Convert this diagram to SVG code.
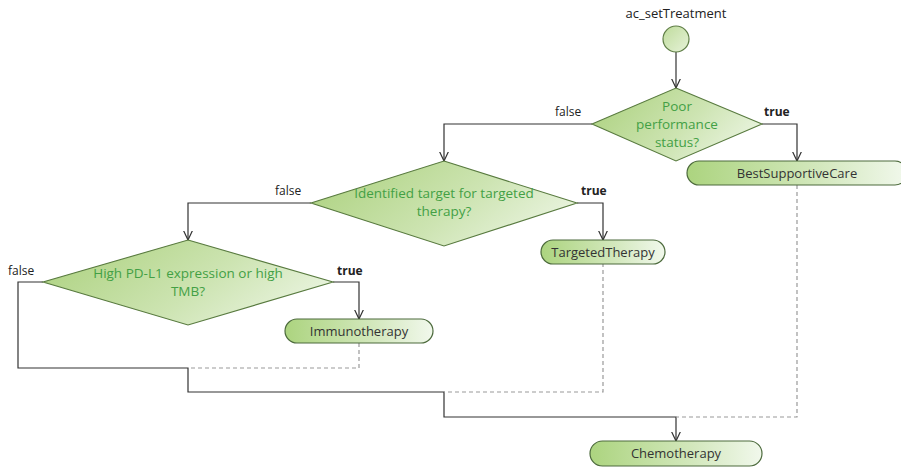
<svg xmlns="http://www.w3.org/2000/svg" width="901" height="467" viewBox="0 0 901 467">
  <defs>
    <linearGradient id="gDecision" x1="0" y1="0.3" x2="1" y2="0.7">
      <stop offset="0" stop-color="#afd383"/>
      <stop offset="0.55" stop-color="#cde4b2"/>
      <stop offset="1" stop-color="#ecf5e3"/>
    </linearGradient>
    <linearGradient id="gAction" x1="0" y1="0" x2="1" y2="0">
      <stop offset="0" stop-color="#acd47f"/>
      <stop offset="0.6" stop-color="#d3e8bd"/>
      <stop offset="1" stop-color="#f1f8ec"/>
    </linearGradient>
    <linearGradient id="gStart" x1="0" y1="0" x2="1" y2="1">
      <stop offset="0" stop-color="#bfdc9c"/>
      <stop offset="1" stop-color="#e6f2d8"/>
    </linearGradient>
    <marker id="arrow" viewBox="0 0 10 10" refX="9.5" refY="5" markerWidth="10" markerHeight="10" markerUnits="userSpaceOnUse" orient="auto">
      <path d="M0,0.5 L9.5,5 L0,9.5" fill="none" stroke="#333" stroke-width="1.2"/>
    </marker>
  </defs>
  <style>
    text { font-family: "Open Sans", "Noto Sans", "DejaVu Sans", sans-serif; }
    .decision { fill: url(#gDecision); stroke: #587a3f; stroke-width: 1.1; }
    .action { fill: url(#gAction); stroke: #4c6a3c; stroke-width: 1.2; }
    .start { fill: url(#gStart); stroke: #5e7d45; stroke-width: 1.2; }
    .qtext { fill: #43a045; font-size: 13.5px; text-anchor: middle; }
    .atext { fill: #333; font-size: 13px; text-anchor: middle; }
    .title { fill: #222; font-size: 13px; text-anchor: middle; }
    .lbl { fill: #222; font-size: 12px; }
    .lbl-b { fill: #222; font-size: 12px; font-weight: bold; }
    .flow { fill: none; stroke: #333; stroke-width: 1.2; }
    .merge { fill: none; stroke: #999; stroke-width: 1.2; stroke-dasharray: 4 3; }
  </style>

  <rect width="901" height="467" fill="#ffffff"/>

  <!-- connectors -->
  <g id="connectors">
    <path class="flow" d="M676,52 V88" marker-end="url(#arrow)"/>
    <!-- decision 1 -->
    <path class="flow" d="M762,124 H797 V161" marker-end="url(#arrow)"/>
    <path class="flow" d="M592,124 H444 V161" marker-end="url(#arrow)"/>
    <!-- decision 2 -->
    <path class="flow" d="M577,203 H603 V240" marker-end="url(#arrow)"/>
    <path class="flow" d="M311,203 H188 V240" marker-end="url(#arrow)"/>
    <!-- decision 3 -->
    <path class="flow" d="M333,282 H359 V319" marker-end="url(#arrow)"/>
    <path class="flow" d="M43,282 H18 V368 H188 V392 H444 V417 H676 V441" marker-end="url(#arrow)"/>
    <!-- merges from actions -->
    <path class="merge" d="M359,343 V368 H188"/>
    <path class="merge" d="M603,263 V392 H444"/>
    <path class="merge" d="M797,185 V417 H676"/>
    <!-- branch labels -->
    <text class="title" x="676" y="18">ac_setTreatment</text>
    <text class="lbl" x="555" y="116">false</text>
    <text class="lbl-b" x="764" y="116">true</text>
    <text class="lbl" x="275" y="195">false</text>
    <text class="lbl-b" x="581" y="195">true</text>
    <text class="lbl" x="8" y="275">false</text>
    <text class="lbl-b" x="337" y="275">true</text>
  </g>

  <g id="start">
    <circle class="start" cx="676" cy="39" r="13"/>
  </g>

  <g id="poorPerformance">
    <polygon class="decision" points="676,88 762,124 676,161 592,124"/>
    <text class="qtext" x="677" y="111">Poor</text>
    <text class="qtext" x="677" y="129">performance</text>
    <text class="qtext" x="677" y="147">status?</text>
  </g>

  <g id="identifiedTarget">
    <polygon class="decision" points="444,161 577,203 444,246 311,203"/>
    <text class="qtext" x="444" y="198">Identified target for targeted</text>
    <text class="qtext" x="444" y="216">therapy?</text>
  </g>

  <g id="highPDL1">
    <polygon class="decision" points="188,240 333,282 188,325 43,282"/>
    <text class="qtext" x="188" y="278">High PD-L1 expression or high</text>
    <text class="qtext" x="188" y="296">TMB?</text>
  </g>

  <g id="bestSupportiveCare">
    <rect class="action" x="687" y="161" width="220" height="24" rx="12"/>
    <text class="atext" x="797" y="178">BestSupportiveCare</text>
  </g>

  <g id="targetedTherapy">
    <rect class="action" x="541" y="240" width="124" height="24" rx="12"/>
    <text class="atext" x="603" y="257">TargetedTherapy</text>
  </g>

  <g id="immunotherapy">
    <rect class="action" x="285" y="319" width="148" height="24" rx="12"/>
    <text class="atext" x="359" y="336">Immunotherapy</text>
  </g>

  <g id="chemotherapy">
    <rect class="action" x="590" y="441" width="172" height="25" rx="12.5"/>
    <text class="atext" x="676" y="458">Chemotherapy</text>
  </g>
</svg>
